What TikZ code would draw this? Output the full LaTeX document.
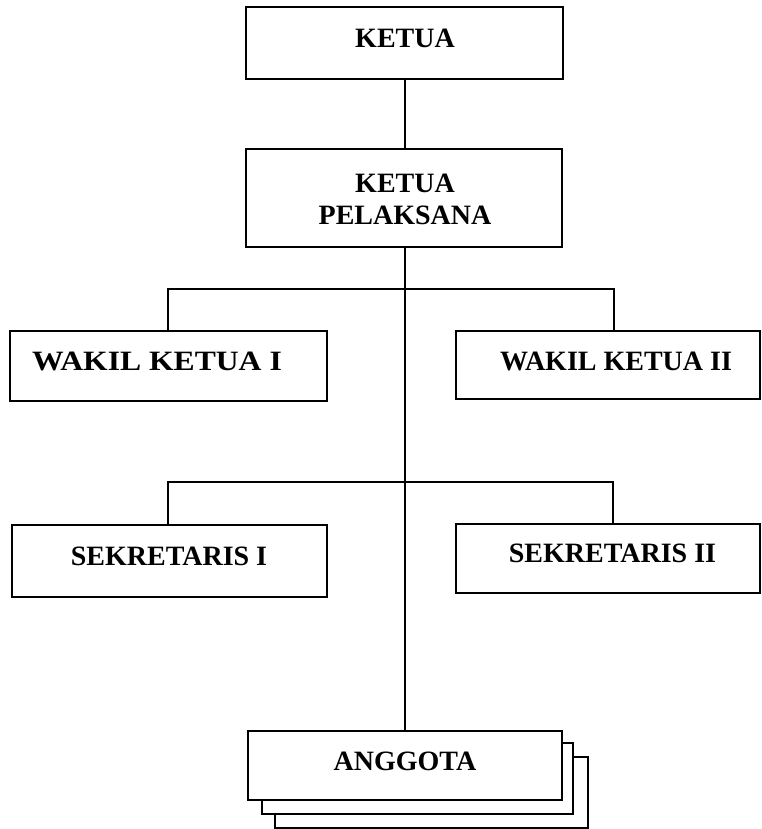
\documentclass[tikz,border=0pt]{standalone}
\usepackage{fontspec}
\setmainfont{Liberation Serif}
\begin{document}
\begin{tikzpicture}[x=1pt,y=-1pt,
  box/.style={draw=black,line width=1.4pt,fill=white,rectangle,inner sep=0pt},
  lbl/.style={font=\fontsize{28}{32}\selectfont\bfseries,inner sep=0pt,anchor=base},
  conn/.style={draw=black,line width=1.4pt}]
\useasboundingbox (0,0) rectangle (762,829);
% boxes
\node[box,minimum width=317pt,minimum height=72pt] (ketua) at (404.5,43) {};
\node[box,minimum width=316pt,minimum height=98pt] (kp) at (404,198) {};
\node[box,minimum width=317pt,minimum height=70pt] (w1) at (168.5,366) {};
\node[box,minimum width=304pt,minimum height=68pt] (w2) at (608,365) {};
\node[box,minimum width=315pt,minimum height=72pt] (s1) at (169.5,561) {};
\node[box,minimum width=304pt,minimum height=69pt] (s2) at (608,558.5) {};
\node[box,minimum width=313pt,minimum height=71pt] (a3) at (431.5,792.5) {};
\node[box,minimum width=311pt,minimum height=71pt] (a2) at (417.5,778.5) {};
\node[box,minimum width=314pt,minimum height=69pt] (a1) at (405,765.5) {};
% labels
\node[lbl] (tketua) at (405,48) {KETUA};
\node[font=\fontsize{28}{32}\selectfont\bfseries,inner sep=0pt,align=center] (tkp) at (405,199) {KETUA\\PELAKSANA};
\node[lbl,xscale=1.13,transform shape] (tw1) at (157,370.5) {WAKIL KETUA I};
\node[lbl] (tw2) at (616,370) {WAKIL KETUA II};
\node[lbl] (ts1) at (169,565.5) {SEKRETARIS I};
\node[lbl] (ts2) at (612.5,562.5) {SEKRETARIS II};
\node[lbl] (ta) at (405,770.5) {ANGGOTA};
% connectors
\coordinate (j1) at (405,289);
\coordinate (j2) at (405,482);
\draw[conn] (ketua.south -| j1) -- (kp.north -| j1);
\draw[conn] (kp.south -| j1) -- (a1.north -| j1);
\draw[conn] (w1.north -| 168,0) |- (j1) -| (w2.north -| 614,0);
\draw[conn] (s1.north -| 168,0) |- (j2) -| (s2.north -| 613,0);
\end{tikzpicture}
\end{document}
